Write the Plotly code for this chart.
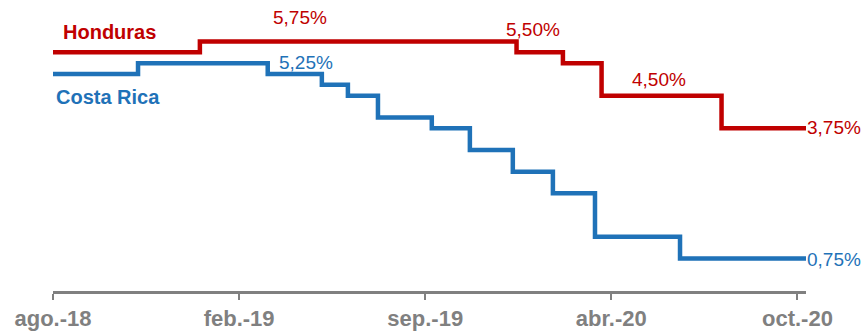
import plotly.graph_objects as go

# Tasas de política monetaria, escalones en meses contados desde ago.-18
tick_labels = ["ago.-18", "feb.-19", "sep.-19", "abr.-20", "oct.-20"]
tick_pos = [0, 6.5, 13, 19.5, 26]
x_end = 26.3

hn_x = [0, 5.13, 16.19, 17.81, 19.16, 23.35]
hn_y = [5.50, 5.75, 5.50, 5.25, 4.50, 3.75]

cr_x = [0, 2.97, 7.5, 9.39, 10.3, 11.35, 13.23, 14.56, 16.06, 17.46, 18.93, 21.9]
cr_y = [5.00, 5.25, 5.00, 4.75, 4.50, 4.00, 3.75, 3.25, 2.75, 2.25, 1.25, 0.75]

RED = "#C00000"
BLUE = "#1F72B8"
GRAY = "#808080"
FONT = "Liberation Sans, Arial, sans-serif"


def pct(v):
    return f"{v:.2f}%".replace(".", ",")


fig = go.Figure()
for xs, ys, color, name in [(hn_x, hn_y, RED, "Honduras"), (cr_x, cr_y, BLUE, "Costa Rica")]:
    fig.add_trace(go.Scatter(
        x=xs + [x_end], y=ys + [ys[-1]], mode="lines", name=name,
        line=dict(color=color, width=4.5, shape="hv"),
        showlegend=False, hoverinfo="skip",
    ))

annotations = [
    # series names
    dict(x=0.3, y=5.97, text="<b>Honduras</b>", xanchor="left", color=RED, size=20),
    dict(x=0.06, y=4.46, text="<b>Costa Rica</b>", xanchor="left", color=BLUE, size=20),
    # value labels along the Honduras line
    dict(x=8.62, y=hn_y[1], text=pct(hn_y[1]), xanchor="center", yshift=23.5, color=RED, size=19),
    dict(x=16.78, y=hn_y[2], text=pct(hn_y[2]), xanchor="center", yshift=23, color=RED, size=19),
    dict(x=21.18, y=hn_y[4], text=pct(hn_y[4]), xanchor="center", yshift=16.6, color=RED, size=19),
    dict(x=x_end, y=hn_y[-1], text=pct(hn_y[-1]), xanchor="left", yshift=0.4, color=RED, size=19),
    # value labels along the Costa Rica line
    dict(x=8.85, y=cr_y[1], text=pct(cr_y[1]), xanchor="center", yshift=1, color=BLUE, size=19),
    dict(x=x_end, y=cr_y[-1], text=pct(cr_y[-1]), xanchor="left", yshift=-1, color=BLUE, size=19),
]
for a in annotations:
    fig.add_annotation(
        x=a["x"], y=a["y"], text=a["text"], xanchor=a["xanchor"], yanchor="middle",
        yshift=a.get("yshift", 0), showarrow=False, xref="x", yref="y",
        font=dict(family=FONT, size=a["size"], color=a["color"]),
        borderpad=0,
    )

fig.update_layout(
    width=866, height=331,
    margin=dict(l=53, r=60, t=0, b=38),
    paper_bgcolor="white", plot_bgcolor="white",
    font=dict(family=FONT),
)
fig.update_xaxes(
    range=[0, x_end], tickmode="array", tickvals=tick_pos, ticktext=tick_labels,
    showgrid=False, zeroline=False, showline=True, linecolor=GRAY, linewidth=3,
    ticks="outside", ticklen=6, tickwidth=2, tickcolor=GRAY,
    tickfont=dict(family=FONT, size=22, color=GRAY, weight="bold"),
)
fig.update_yaxes(range=[0, 6.705], visible=False)

fig.write_html("out.html")
